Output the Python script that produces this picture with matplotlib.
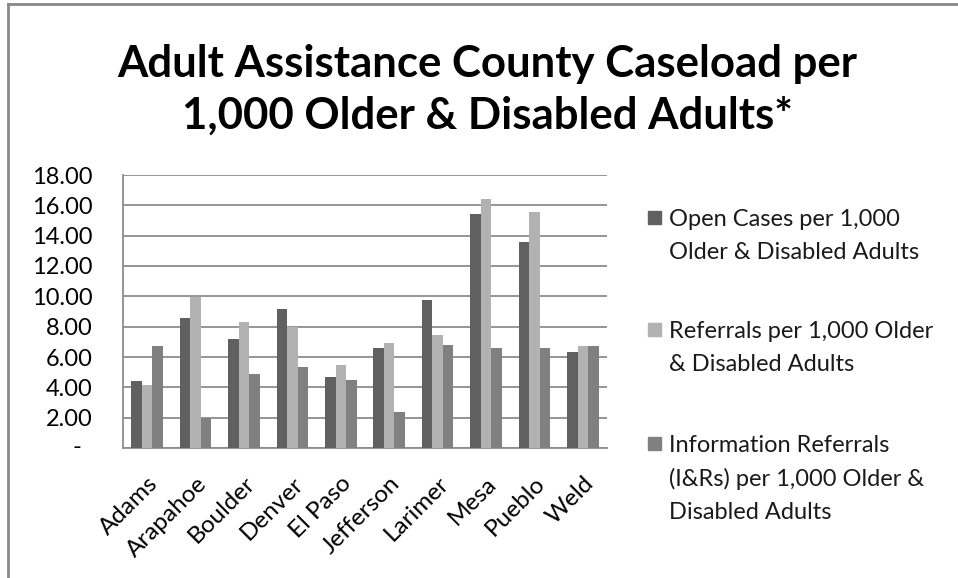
import matplotlib.pyplot as plt
import matplotlib.transforms as mtransforms
from matplotlib.patches import Rectangle
from matplotlib.lines import Line2D
import numpy as np

counties = ["Adams", "Arapahoe", "Boulder", "Denver", "El Paso",
            "Jefferson", "Larimer", "Mesa", "Pueblo", "Weld"]
open_cases = [4.45, 8.55, 7.20, 9.15, 4.70, 6.60, 9.75, 15.40, 13.55, 6.30]
referrals = [4.15, 9.95, 8.30, 7.95, 5.50, 6.90, 7.45, 16.40, 15.55, 6.70]
info_referrals = [6.75, 1.95, 4.85, 5.35, 4.50, 2.40, 6.80, 6.60, 6.60, 6.70]

series_labels = ["Open Cases per 1,000\nOlder & Disabled Adults",
                 "Referrals per 1,000 Older\n& Disabled Adults",
                 "Information Referrals\n(I&Rs) per 1,000 Older &\nDisabled Adults"]
colors = ["#606060", "#b2b2b2", "#808080"]
yticks = [0, 2, 4, 6, 8, 10, 12, 14, 16, 18]

plt.rcParams['font.family'] = ['Lato', 'DejaVu Sans']

fig = plt.figure(figsize=(9.58, 5.78), dpi=100)
ax = fig.add_axes([123 / 958, 1 - 448 / 578, 484 / 958, 273 / 578])

x = np.arange(len(counties))
w = 0.217
for i, vals in enumerate([open_cases, referrals, info_referrals]):
    ax.bar(x + (i - 1) * w, vals, width=w, color=colors[i], zorder=3)

ax.set_xlim(-0.5, len(counties) - 0.5)
ax.set_ylim(0, 18)
ax.set_yticks(yticks)
ax.set_yticklabels(["" if v == 0 else f"{v:.2f}" for v in yticks], fontsize=17)
ax.text(-0.095, 0, "-", transform=ax.get_yaxis_transform(), ha="center",
        va="center", fontsize=17)
ax.set_xticks(x)
ax.set_xticklabels(counties, rotation=45, ha="right", rotation_mode="anchor",
                   fontsize=17.5)
shift = mtransforms.ScaledTranslation(-5 / 100, 0, fig.dpi_scale_trans)
for lbl in ax.get_xticklabels():
    lbl.set_transform(lbl.get_transform() + shift)
ax.tick_params(length=0)
ax.tick_params(axis="y", pad=22)
ax.tick_params(axis="x", pad=18)
ax.grid(axis="y", color="#8c8c8c", linewidth=1.3, zorder=0)
for s in ["top", "right"]:
    ax.spines[s].set_visible(False)
for s in ["left", "bottom"]:
    ax.spines[s].set_color("#8c8c8c")
    ax.spines[s].set_linewidth(1.3)

fig.text(487 / 958, 1 - 90 / 578, "Adult Assistance County Caseload per\n1,000 Older & Disabled Adults*",
         ha="center", va="center", fontsize=31.5, fontweight="bold",
         linespacing=1.36)

# legend drawn by hand so each marker lines up with the first text line
line_centers = [219, 331, 445]
for yc, lab, c in zip(line_centers, series_labels, colors):
    fig.patches.append(Rectangle((648 / 958, 1 - (yc + 4.5) / 578), 13 / 958, 13 / 578,
                                 transform=fig.transFigure, color=c))
    fig.text(669 / 958, 1 - (yc - 10) / 578, lab, ha="left", va="top",
             fontsize=17, linespacing=1.68, color="#1a1a1a")

# outer chart frame
fig.add_artist(Line2D([8 / 958, 1], [1 - 4 / 578, 1 - 4 / 578], transform=fig.transFigure,
                      color="#888888", linewidth=2))
fig.add_artist(Line2D([8 / 958, 8 / 958], [0, 1 - 4 / 578], transform=fig.transFigure,
                      color="#888888", linewidth=2))

fig.savefig("out.png", dpi=100)
